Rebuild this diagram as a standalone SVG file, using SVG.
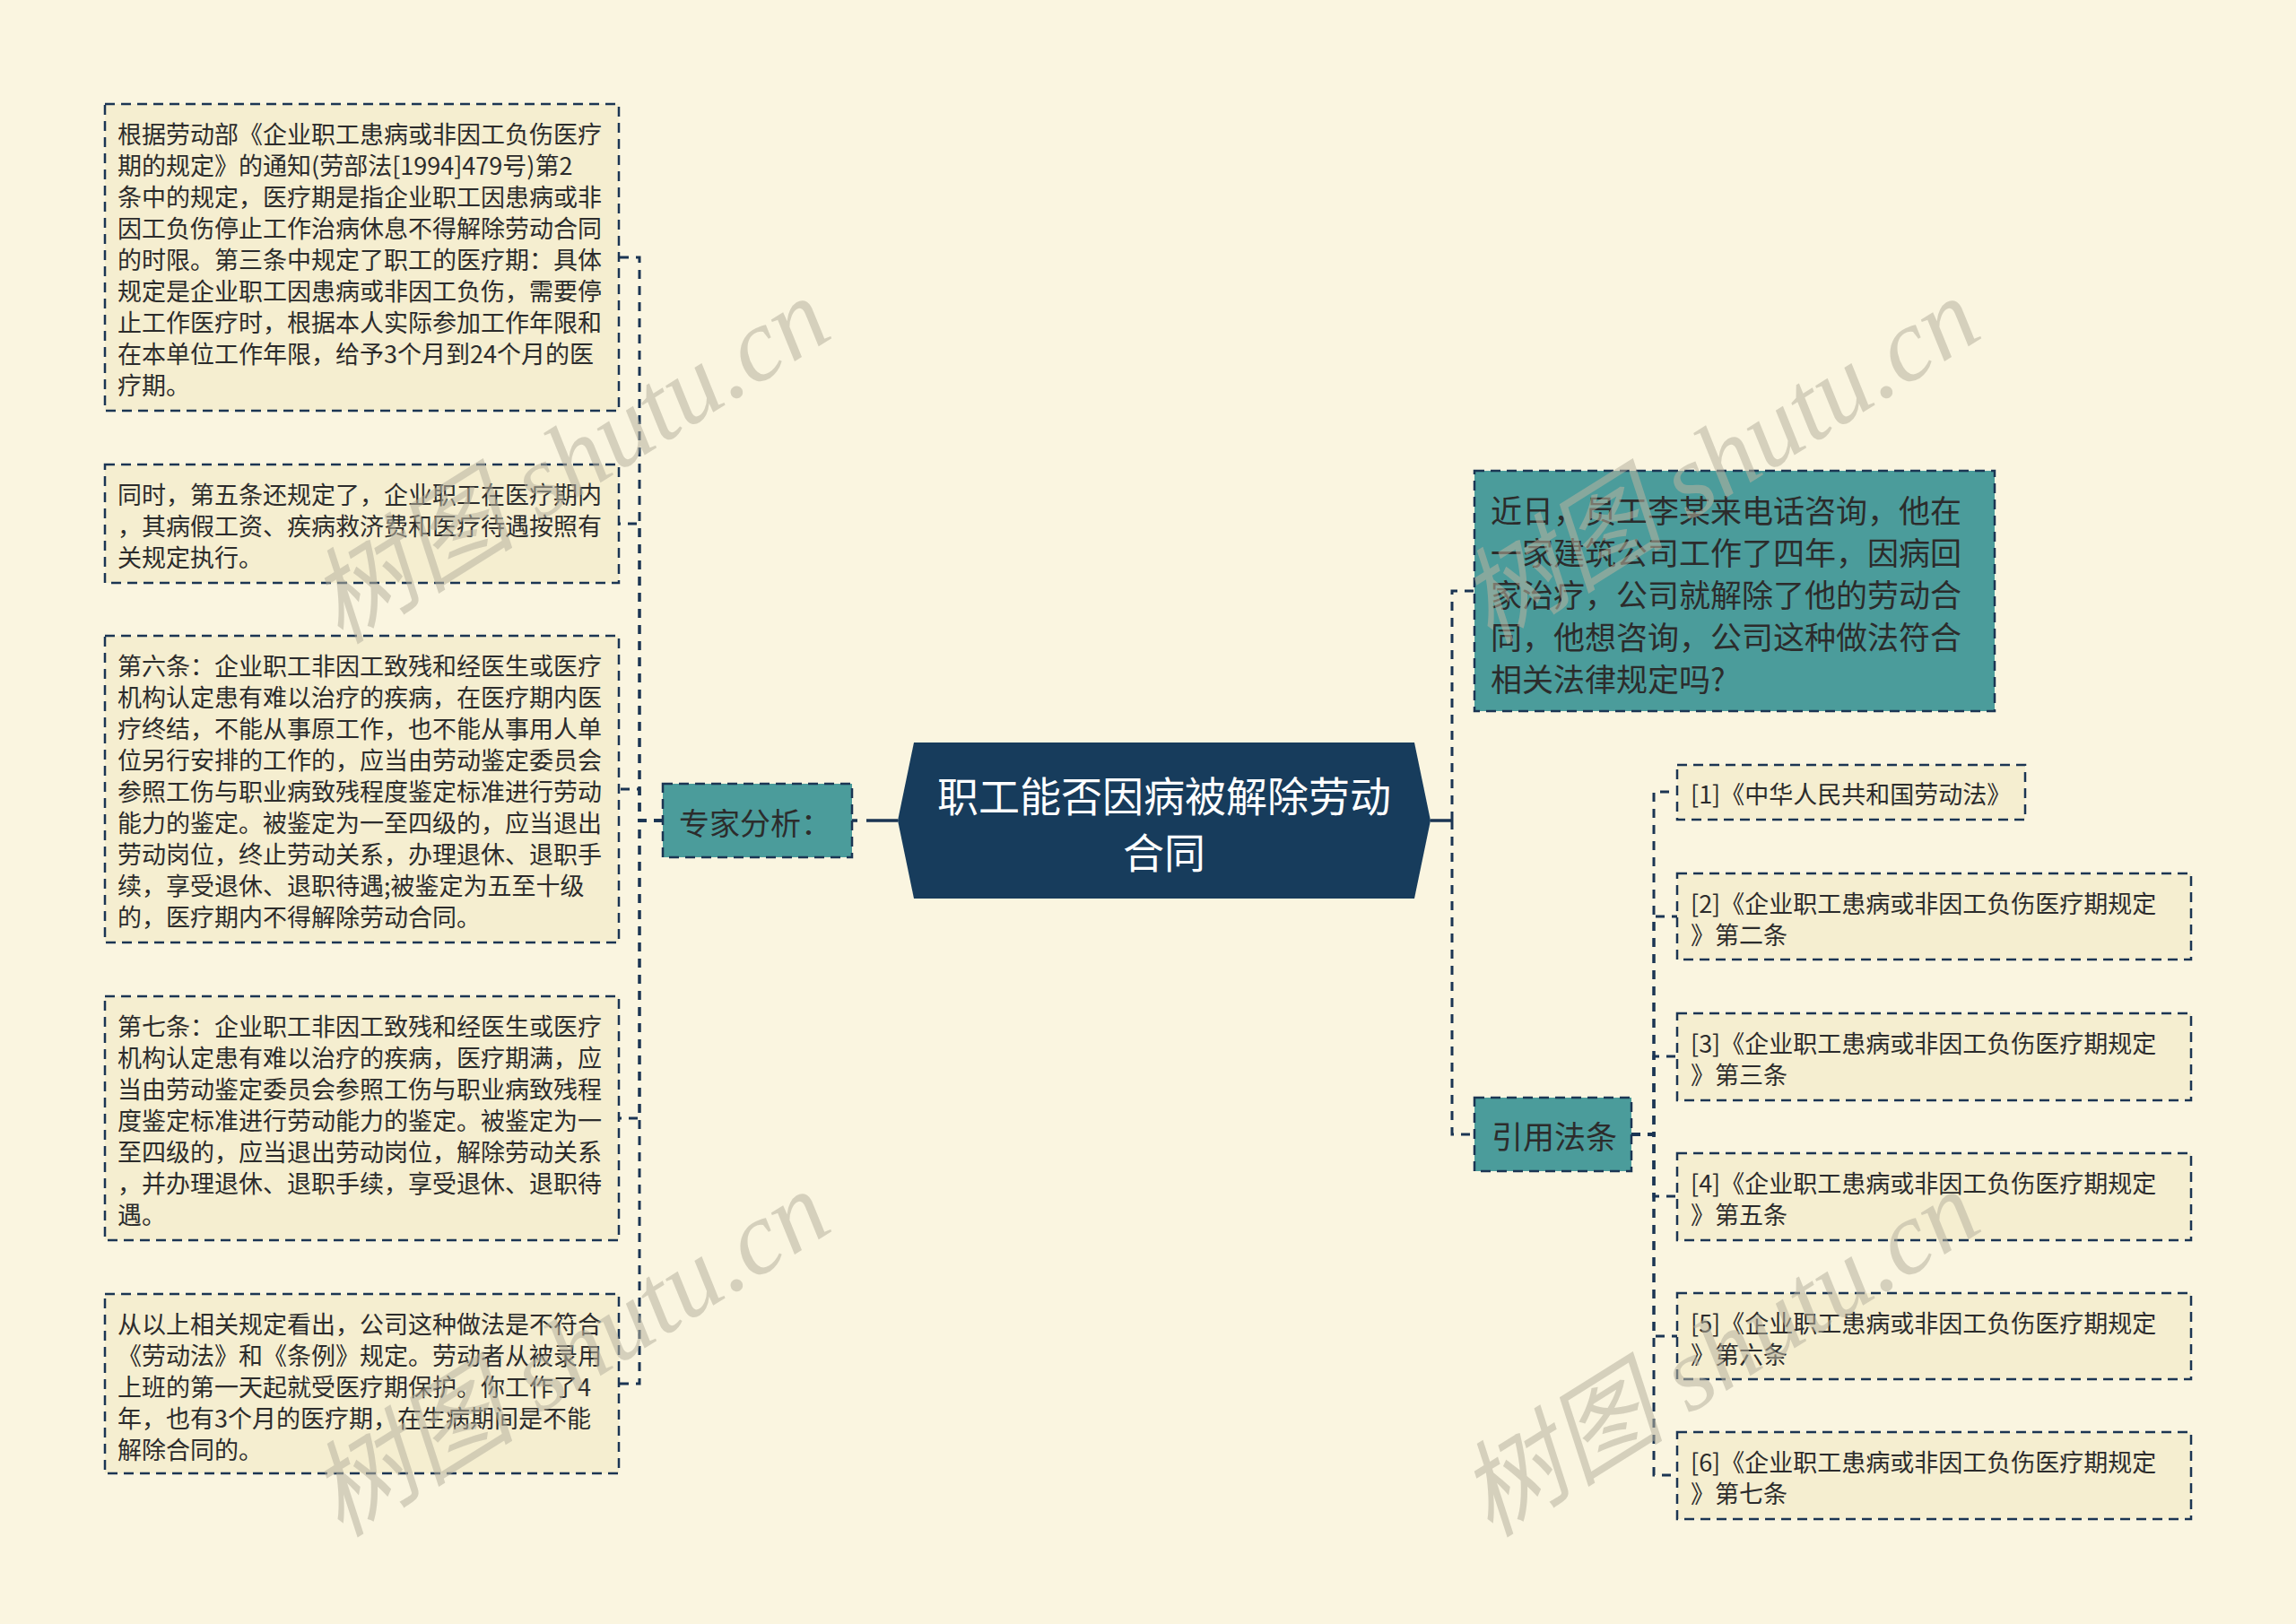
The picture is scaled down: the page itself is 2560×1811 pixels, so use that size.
<svg xmlns="http://www.w3.org/2000/svg" width="2560" height="1811" viewBox="0 0 2560 1811">
<style>
.bg{fill:#faf5e0}
.box{fill:#f5eed0;stroke:#1b3553;stroke-width:2.5;stroke-dasharray:11 7}
.teal{fill:#4b9c9b;stroke:#1b3553;stroke-width:2.5;stroke-dasharray:11 7}
.center{fill:#173c5c}
.t{font-family:"Noto Sans CJK SC","Noto Sans",sans-serif;fill:#2c2c2c;dominant-baseline:central}
.s27{font-size:27px}
.s26{font-size:27px}
.s35{font-size:34px}
.ct{font-family:"Noto Sans CJK SC","Noto Sans",sans-serif;fill:#ffffff;font-size:46px;dominant-baseline:central;text-anchor:middle}
.c{fill:none;stroke:#1b3553;stroke-width:3;stroke-dasharray:10 8}
.cm{fill:none;stroke:#1b3553;stroke-width:3.5;stroke-dasharray:35 10}
.wm{font-family:"Liberation Serif","Noto Sans CJK SC",serif;font-style:italic;font-size:116px;fill:#b8b3a0;opacity:0.55}
</style>
<rect class="bg" x="0" y="0" width="2560" height="1811"/>

<g id="connectors">
<path class="cm" d="M1001,915 H950"/>
<path class="c" d="M739,915 H713 V287 H690"/>
<path class="c" d="M739,915 H713 V584 H690"/>
<path class="c" d="M739,915 H713 V880 H690"/>
<path class="c" d="M739,915 H713 V1247 H690"/>
<path class="c" d="M739,915 H713 V1543 H690"/>
<path class="cm" d="M1595,915 H1619"/>
<path class="c" d="M1619,915 V659 H1644"/>
<path class="c" d="M1619,915 V1265 H1644"/>
<path class="c" d="M1819,1265 H1844 V883 H1870"/>
<path class="c" d="M1819,1265 H1844 V1022 H1870"/>
<path class="c" d="M1819,1265 H1844 V1178 H1870"/>
<path class="c" d="M1819,1265 H1844 V1334 H1870"/>
<path class="c" d="M1819,1265 H1844 V1490 H1870"/>
<path class="c" d="M1819,1265 H1844 V1645 H1870"/>
</g>

<g id="center-node">
<polygon class="center" points="1001,915 1019,828 1577,828 1595,915 1577,1002 1019,1002"/>
<text class="ct" x="1298"><tspan x="1298" y="885">职工能否因病被解除劳动</tspan><tspan x="1298" y="948">合同</tspan></text>
</g>

<g id="node-expert">
<rect class="teal" x="739" y="874" width="211" height="82"/>
<text class="t s35" x="757" y="916">专家分析：</text>
</g>

<g id="node-box1">
<rect class="box" x="117" y="116" width="573" height="342"/>
<text class="t s27" x="131"><tspan x="131" y="148">根据劳动部《企业职工患病或非因工负伤医疗</tspan><tspan x="131" y="183">期的规定》的通知(劳部法[1994]479号)第2</tspan><tspan x="131" y="218">条中的规定，医疗期是指企业职工因患病或非</tspan><tspan x="131" y="253">因工负伤停止工作治病休息不得解除劳动合同</tspan><tspan x="131" y="288">的时限。第三条中规定了职工的医疗期：具体</tspan><tspan x="131" y="323">规定是企业职工因患病或非因工负伤，需要停</tspan><tspan x="131" y="358">止工作医疗时，根据本人实际参加工作年限和</tspan><tspan x="131" y="393">在本单位工作年限，给予3个月到24个月的医</tspan><tspan x="131" y="428">疗期。</tspan></text>
</g>

<g id="node-box2">
<rect class="box" x="117" y="518" width="573" height="132"/>
<text class="t s27" x="131"><tspan x="131" y="550">同时，第五条还规定了，企业职工在医疗期内</tspan><tspan x="131" y="585">，其病假工资、疾病救济费和医疗待遇按照有</tspan><tspan x="131" y="620">关规定执行。</tspan></text>
</g>

<g id="node-box3">
<rect class="box" x="117" y="709" width="573" height="342"/>
<text class="t s27" x="131"><tspan x="131" y="741">第六条：企业职工非因工致残和经医生或医疗</tspan><tspan x="131" y="776">机构认定患有难以治疗的疾病，在医疗期内医</tspan><tspan x="131" y="811">疗终结，不能从事原工作，也不能从事用人单</tspan><tspan x="131" y="846">位另行安排的工作的，应当由劳动鉴定委员会</tspan><tspan x="131" y="881">参照工伤与职业病致残程度鉴定标准进行劳动</tspan><tspan x="131" y="916">能力的鉴定。被鉴定为一至四级的，应当退出</tspan><tspan x="131" y="951">劳动岗位，终止劳动关系，办理退休、退职手</tspan><tspan x="131" y="986">续，享受退休、退职待遇;被鉴定为五至十级</tspan><tspan x="131" y="1021">的，医疗期内不得解除劳动合同。</tspan></text>
</g>

<g id="node-box4">
<rect class="box" x="117" y="1111" width="573" height="272"/>
<text class="t s27" x="131"><tspan x="131" y="1143">第七条：企业职工非因工致残和经医生或医疗</tspan><tspan x="131" y="1178">机构认定患有难以治疗的疾病，医疗期满，应</tspan><tspan x="131" y="1213">当由劳动鉴定委员会参照工伤与职业病致残程</tspan><tspan x="131" y="1248">度鉴定标准进行劳动能力的鉴定。被鉴定为一</tspan><tspan x="131" y="1283">至四级的，应当退出劳动岗位，解除劳动关系</tspan><tspan x="131" y="1318">，并办理退休、退职手续，享受退休、退职待</tspan><tspan x="131" y="1353">遇。</tspan></text>
</g>

<g id="node-box5">
<rect class="box" x="117" y="1443" width="573" height="200"/>
<text class="t s27" x="131"><tspan x="131" y="1475">从以上相关规定看出，公司这种做法是不符合</tspan><tspan x="131" y="1510">《劳动法》和《条例》规定。劳动者从被录用</tspan><tspan x="131" y="1545">上班的第一天起就受医疗期保护。你工作了4</tspan><tspan x="131" y="1580">年，也有3个月的医疗期，在生病期间是不能</tspan><tspan x="131" y="1615">解除合同的。</tspan></text>
</g>

<g id="node-question">
<rect class="teal" x="1644" y="525" width="580" height="268"/>
<text class="t" style="font-size:35px" x="1662"><tspan x="1662" y="567">近日，员工李某来电话咨询，他在</tspan><tspan x="1662" y="614">一家建筑公司工作了四年，因病回</tspan><tspan x="1662" y="661">家治疗，公司就解除了他的劳动合</tspan><tspan x="1662" y="708">同，他想咨询，公司这种做法符合</tspan><tspan x="1662" y="755">相关法律规定吗?</tspan></text>
</g>

<g id="node-law">
<rect class="teal" x="1644" y="1224" width="175" height="82"/>
<text class="t" style="font-size:35px" x="1663" y="1265">引用法条</text>
</g>

<g id="node-item1">
<rect class="box" x="1870" y="853" width="388" height="61"/>
<text class="t s26" x="1885" y="884">[1]《中华人民共和国劳动法》</text>
</g>
<g id="node-item2">
<rect class="box" x="1870" y="974" width="573" height="96"/>
<text class="t s26" x="1885"><tspan x="1885" y="1006">[2]《企业职工患病或非因工负伤医疗期规定</tspan><tspan x="1885" y="1041">》第二条</tspan></text>
</g>
<g id="node-item3">
<rect class="box" x="1870" y="1130" width="573" height="97"/>
<text class="t s26" x="1885"><tspan x="1885" y="1162">[3]《企业职工患病或非因工负伤医疗期规定</tspan><tspan x="1885" y="1197">》第三条</tspan></text>
</g>
<g id="node-item4">
<rect class="box" x="1870" y="1286" width="573" height="97"/>
<text class="t s26" x="1885"><tspan x="1885" y="1318">[4]《企业职工患病或非因工负伤医疗期规定</tspan><tspan x="1885" y="1353">》第五条</tspan></text>
</g>
<g id="node-item5">
<rect class="box" x="1870" y="1442" width="573" height="96"/>
<text class="t s26" x="1885"><tspan x="1885" y="1474">[5]《企业职工患病或非因工负伤医疗期规定</tspan><tspan x="1885" y="1509">》第六条</tspan></text>
</g>
<g id="node-item6">
<rect class="box" x="1870" y="1597" width="573" height="97"/>
<text class="t s26" x="1885"><tspan x="1885" y="1629">[6]《企业职工患病或非因工负伤医疗期规定</tspan><tspan x="1885" y="1664">》第七条</tspan></text>
</g>

<g id="watermarks">
<text class="wm" transform="translate(635,514) rotate(-32)" text-anchor="middle" dominant-baseline="central">树图 shutu.cn</text>
<text class="wm" transform="translate(635,1510) rotate(-32)" text-anchor="middle" dominant-baseline="central">树图 shutu.cn</text>
<text class="wm" transform="translate(1917,514) rotate(-32)" text-anchor="middle" dominant-baseline="central">树图 shutu.cn</text>
<text class="wm" transform="translate(1917,1510) rotate(-32)" text-anchor="middle" dominant-baseline="central">树图 shutu.cn</text>
</g>
</svg>
